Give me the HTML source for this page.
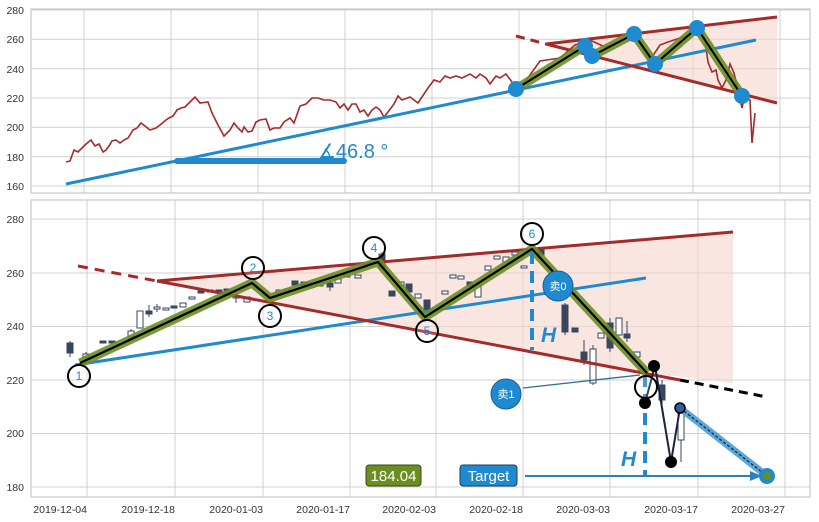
<!DOCTYPE html>
<html><head><meta charset="utf-8"><style>
html,body{margin:0;padding:0;background:#fff;}
svg{display:block;font-family:"Liberation Sans","Noto Sans CJK SC",sans-serif;}
.tk{font-size:10.5px;fill:#333;}
.g{stroke:#d0d0d0;stroke-width:1;}
</style></head><body>
<svg width="819" height="522" viewBox="0 0 819 522">
<rect width="819" height="522" fill="#fff"/>
<!-- TOP PANEL -->
<g class="g">
<line x1="31" x2="810" y1="10" y2="10"/><line x1="31" x2="810" y1="39.3" y2="39.3"/><line x1="31" x2="810" y1="68.7" y2="68.7"/><line x1="31" x2="810" y1="98" y2="98"/><line x1="31" x2="810" y1="127.3" y2="127.3"/><line x1="31" x2="810" y1="156.7" y2="156.7"/><line x1="31" x2="810" y1="186" y2="186"/>
<line x1="84" x2="84" y1="9" y2="193"/><line x1="171" x2="171" y1="9" y2="193"/><line x1="258" x2="258" y1="9" y2="193"/><line x1="345" x2="345" y1="9" y2="193"/><line x1="432" x2="432" y1="9" y2="193"/><line x1="519" x2="519" y1="9" y2="193"/><line x1="606" x2="606" y1="9" y2="193"/><line x1="693" x2="693" y1="9" y2="193"/><line x1="780" x2="780" y1="9" y2="193"/>
</g>
<rect x="31" y="9" width="779" height="184" fill="none" stroke="#c8c8c8" stroke-width="1.2"/>
<g class="tk" text-anchor="end">
<text x="24" y="14">280</text><text x="24" y="43">260</text><text x="24" y="73">240</text><text x="24" y="102">220</text><text x="24" y="131">200</text><text x="24" y="161">180</text><text x="24" y="190">160</text>
</g>
<polygon points="546,44 777,17 777,103" fill="#f5d5cc" opacity="0.6"/>
<polyline fill="none" stroke="#a52a2a" stroke-width="1.6" points="66,162 70,161 74,150 78,152 86,144 91,140 95,146 99,144 103,152 106,150 109,146 112,141 116,140 120,143 124,140 128,138 133,130 137,128 141,123 145,126 150,130 156,128 160,125 166,120 169,118 173,116 177,110 181,108 185,107 189,103 195,97 200,103 208,102 212,113 218,125 224,136 230,130 234,123 238,128 242,132 244,127 248,132 252,131 256,122 260,120 266,119 270,130 274,128 280,128 284,122 290,118 294,123 300,106 306,104 312,98 318,98 324,100 330,100 336,102 340,108 344,104 348,110 352,104 356,104 360,112 364,110 368,116 372,110 376,107 380,110 384,117 388,112 394,104 398,96 402,100 410,97 418,103 428,88 434,80 440,82 445,76 450,78 456,76 462,78 470,74 476,78 480,74 486,78 490,84 496,76 500,78 506,74 512,82 516,88 525,82 540,61 560,58 575,45 590,40 605,47 620,42 634,34 650,60 660,45 668,42 680,38 690,35 700,28 705,40 708,62 712,72 716,70 718,80 722,88 726,80 730,64 734,73 738,90 742,108 744,98 750,100 752,143 755,113"/>
<line x1="66" y1="184" x2="756" y2="40" stroke="#1f8ad0" stroke-width="3"/>
<line x1="177" y1="161" x2="344" y2="161" stroke="#1f8ad0" stroke-width="6" stroke-linecap="round"/>
<text x="318" y="158" font-size="20" fill="#1f8ad0">∡46.8 °</text>
<line x1="516" y1="36" x2="546" y2="44" stroke="#a52a2a" stroke-width="3" stroke-dasharray="9,6"/>
<line x1="546" y1="44" x2="777" y2="17" stroke="#a52a2a" stroke-width="3"/>
<line x1="546" y1="44" x2="777" y2="103" stroke="#a52a2a" stroke-width="3"/>
<polyline fill="none" stroke="#6b8e23" stroke-width="9" stroke-linejoin="round" opacity="0.9" points="516,89 585,46 592,56 634,34 655,64 697,28 742,96"/>
<polyline fill="none" stroke="#000" stroke-width="2" points="516,89 585,46 592,56 634,34 655,64 697,28 742,96"/>
<g fill="#1f8ad0"><circle cx="516" cy="89" r="8"/><circle cx="585" cy="46" r="8"/><circle cx="592" cy="56" r="8"/><circle cx="634" cy="34" r="8"/><circle cx="655" cy="64" r="8"/><circle cx="697" cy="28" r="8"/><circle cx="742" cy="96" r="8"/></g>

<!-- BOTTOM PANEL -->
<g class="g">
<line x1="31" x2="810" y1="219" y2="219"/><line x1="31" x2="810" y1="273" y2="273"/><line x1="31" x2="810" y1="326.5" y2="326.5"/><line x1="31" x2="810" y1="380" y2="380"/><line x1="31" x2="810" y1="433.5" y2="433.5"/><line x1="31" x2="810" y1="487" y2="487"/>
<line x1="87" x2="87" y1="200" y2="497"/><line x1="175" x2="175" y1="200" y2="497"/><line x1="263" x2="263" y1="200" y2="497"/><line x1="350" x2="350" y1="200" y2="497"/><line x1="436" x2="436" y1="200" y2="497"/><line x1="523" x2="523" y1="200" y2="497"/><line x1="610" x2="610" y1="200" y2="497"/><line x1="698" x2="698" y1="200" y2="497"/><line x1="785" x2="785" y1="200" y2="497"/>
</g>
<rect x="31" y="200" width="779" height="297" fill="none" stroke="#c8c8c8" stroke-width="1.2"/>
<g class="tk" text-anchor="end">
<text x="24" y="223">280</text><text x="24" y="277">260</text><text x="24" y="330">240</text><text x="24" y="384">220</text><text x="24" y="437">200</text><text x="24" y="491">180</text>
</g>
<g class="tk" text-anchor="end" font-size="10">
<text x="87" y="513">2019-12-04</text><text x="175" y="513">2019-12-18</text><text x="263" y="513">2020-01-03</text><text x="350" y="513">2020-01-17</text><text x="436" y="513">2020-02-03</text><text x="523" y="513">2020-02-18</text><text x="610" y="513">2020-03-03</text><text x="698" y="513">2020-03-17</text><text x="785" y="513">2020-03-27</text>
</g>
<polygon points="157,281 733,232 733,383 647,373" fill="#f5d5cc" opacity="0.6"/>
<!-- candles -->
<g stroke="#3a4560" stroke-width="1">
<line x1="70" y1="341" x2="70" y2="357"/><rect x="67" y="343" width="6" height="10" fill="#3a4560"/>
<line x1="86" y1="352" x2="86" y2="360"/><rect x="83" y="354" width="6" height="3" fill="#fff"/>
<rect x="100" y="341" width="6" height="2" fill="#3a4560"/><rect x="109" y="341" width="6" height="2" fill="#3a4560"/>
<line x1="131" y1="329" x2="131" y2="339"/><rect x="128" y="331" width="6" height="6" fill="#fff"/>
<rect x="137" y="311" width="6" height="17" fill="#fff"/>
<line x1="149" y1="305" x2="149" y2="317"/><rect x="146" y="311" width="6" height="3" fill="#3a4560"/>
<line x1="157" y1="304" x2="157" y2="312"/><rect x="154" y="307" width="6" height="2" fill="#fff"/>
<rect x="163" y="308" width="6" height="2" fill="#fff"/><rect x="171" y="306" width="6" height="2" fill="#3a4560"/>
<rect x="180" y="303" width="6" height="4" fill="#fff"/><rect x="189" y="297" width="6" height="2" fill="#fff"/>
<rect x="198" y="291" width="6" height="2" fill="#3a4560"/><rect x="207" y="290" width="6" height="2" fill="#fff"/>
<rect x="216" y="290" width="6" height="2" fill="#3a4560"/><rect x="224" y="289" width="6" height="2" fill="#3a4560"/>
<line x1="236" y1="291" x2="236" y2="303"/><rect x="233" y="296" width="6" height="2" fill="#fff"/>
<rect x="244" y="297" width="6" height="5" fill="#fff"/>
<rect x="276" y="290" width="6" height="3" fill="#fff"/><rect x="284" y="289" width="6" height="2" fill="#fff"/>
<rect x="292" y="281" width="6" height="4" fill="#3a4560"/><rect x="301" y="282" width="6" height="4" fill="#3a4560"/>
<rect x="309" y="283" width="6" height="4" fill="#fff"/><rect x="317" y="283" width="6" height="3" fill="#fff"/>
<line x1="330" y1="280" x2="330" y2="291"/><rect x="327" y="283" width="6" height="4" fill="#3a4560"/>
<rect x="335" y="279" width="6" height="4" fill="#fff"/><rect x="344" y="275" width="6" height="2" fill="#fff"/>
<rect x="355" y="275" width="6" height="3" fill="#fff"/>
<line x1="382" y1="252" x2="382" y2="270"/><rect x="379" y="254" width="6" height="14" fill="#3a4560"/>
<rect x="389" y="291" width="6" height="5" fill="#3a4560"/><rect x="398" y="282" width="6" height="4" fill="#fff"/>
<rect x="406" y="284" width="6" height="8" fill="#3a4560"/><rect x="415" y="294" width="6" height="4" fill="#fff"/>
<rect x="424" y="300" width="6" height="10" fill="#3a4560"/>
<rect x="442" y="291" width="6" height="3" fill="#fff"/><rect x="450" y="275" width="6" height="3" fill="#fff"/>
<rect x="458" y="276" width="6" height="3" fill="#fff"/><rect x="467" y="282" width="6" height="4" fill="#3a4560"/>
<rect x="475" y="285" width="6" height="12" fill="#fff"/><rect x="485" y="266" width="6" height="4" fill="#fff"/>
<rect x="494" y="256" width="6" height="3" fill="#fff"/><rect x="503" y="257" width="6" height="5" fill="#fff"/>
<rect x="512" y="252" width="6" height="3" fill="#fff"/><rect x="521" y="266" width="6" height="2" fill="#fff"/>
<rect x="538" y="249" width="6" height="6" fill="#3a4560"/>
<line x1="565" y1="303" x2="565" y2="335"/><rect x="562" y="305" width="6" height="27" fill="#3a4560"/>
<rect x="572" y="328" width="6" height="4" fill="#3a4560"/>
<line x1="584" y1="340" x2="584" y2="365"/><rect x="581" y="352" width="6" height="8" fill="#3a4560"/>
<line x1="593" y1="345" x2="593" y2="385"/><rect x="590" y="349" width="6" height="34" fill="#fff"/>
<rect x="598" y="333" width="6" height="5" fill="#fff"/>
<line x1="610" y1="318" x2="610" y2="352"/><rect x="607" y="323" width="6" height="25" fill="#3a4560"/>
<rect x="616" y="318" width="6" height="17" fill="#fff"/>
<line x1="627" y1="321" x2="627" y2="342"/><rect x="624" y="334" width="6" height="4" fill="#3a4560"/>
<rect x="634" y="352" width="6" height="5" fill="#fff"/>
<line x1="662" y1="380" x2="662" y2="407"/><rect x="659" y="385" width="6" height="15" fill="#3a4560"/>
<line x1="681" y1="405" x2="681" y2="462"/><rect x="678" y="408" width="6" height="32" fill="#fff"/>
</g>
<!-- lines -->
<line x1="75" y1="365" x2="646" y2="278" stroke="#1f8ad0" stroke-width="3"/>
<line x1="78" y1="266" x2="157" y2="281" stroke="#a52a2a" stroke-width="3" stroke-dasharray="10,7"/>
<line x1="157" y1="281" x2="733" y2="232" stroke="#a52a2a" stroke-width="3"/>
<line x1="157" y1="281" x2="680" y2="380" stroke="#a52a2a" stroke-width="3"/>
<line x1="680" y1="380" x2="767" y2="397" stroke="#000" stroke-width="3" stroke-dasharray="9,6"/>
<polyline fill="none" stroke="#6b8e23" stroke-width="9" stroke-linejoin="round" opacity="0.9" points="80,363 252,283 270,298 378,262 425,317 532,249 647,373"/>
<polyline fill="none" stroke="#000" stroke-width="2.2" points="80,363 252,283 270,298 378,262 425,317 532,249 647,373"/>
<line x1="532" y1="252" x2="532" y2="350" stroke="#1f8ad0" stroke-width="4" stroke-dasharray="12,7"/>
<text x="541" y="342" font-size="21" font-weight="bold" font-style="italic" fill="#1f8ad0">H</text>
<line x1="645" y1="375" x2="645" y2="476" stroke="#1f8ad0" stroke-width="4" stroke-dasharray="12,7"/>
<text x="621" y="466" font-size="21" font-weight="bold" font-style="italic" fill="#1f8ad0">H</text>
<!-- sell markers -->
<line x1="523" y1="388" x2="640" y2="375" stroke="#2f6f8f" stroke-width="1.3"/>
<circle cx="558" cy="286" r="15" fill="#1f8ad0" stroke="#1a5f9a"/>
<text x="558" y="290" font-size="11" fill="#fff" text-anchor="middle">卖0</text>
<circle cx="506" cy="394" r="15" fill="#1f8ad0" stroke="#1a5f9a"/>
<text x="506" y="398" font-size="11" fill="#fff" text-anchor="middle">卖1</text>
<!-- post-breakout path -->
<polyline fill="none" stroke="#1a2040" stroke-width="2" points="645,403 655,366 671,462 680,408"/>
<line x1="680" y1="408" x2="767" y2="476" stroke="#5aa7d8" stroke-width="7" stroke-linecap="round"/>
<line x1="680" y1="408" x2="767" y2="476" stroke="#1a2040" stroke-width="1.2" stroke-dasharray="3,2"/>
<circle cx="654" cy="366" r="6" fill="#000"/><circle cx="645" cy="403" r="6" fill="#000"/><circle cx="671" cy="462" r="6" fill="#000"/>
<circle cx="680" cy="408" r="5" fill="#2f5f9f" stroke="#000" stroke-width="1.5"/>
<circle cx="767" cy="476" r="8" fill="#1f8ad0"/><circle cx="767" cy="476" r="4" fill="#6b8e23"/>
<!-- target -->
<line x1="525" y1="476" x2="752" y2="476" stroke="#2f7fbf" stroke-width="2"/>
<polygon points="762,476 750,471 750,481" fill="#2f7fbf"/>
<rect x="460" y="465" width="57" height="21" rx="3" fill="#1f8ad0" stroke="#1a3f6a"/>
<text x="488.5" y="481" font-size="15" fill="#fff" text-anchor="middle">Target</text>
<rect x="366" y="465" width="55" height="21" rx="3" fill="#6b8e23" stroke="#3a4a1a"/>
<text x="393.5" y="481" font-size="15" fill="#fff" text-anchor="middle">184.04</text>
<!-- numbered circles -->
<g fill="#fff" fill-opacity="0.15" stroke="#000" stroke-width="2">
<circle cx="79" cy="376" r="11"/><circle cx="253" cy="268" r="11"/><circle cx="270" cy="316" r="11"/><circle cx="374" cy="248" r="11"/><circle cx="427" cy="331" r="11"/><circle cx="532" cy="234" r="11"/><circle cx="646" cy="387" r="11"/>
</g>
<g font-size="12" fill="#1f8ad0" text-anchor="middle">
<text x="79" y="380">1</text><text x="253" y="272">2</text><text x="270" y="320">3</text><text x="374" y="252">4</text><text x="427" y="335">5</text><text x="532" y="238">6</text>
</g>
</svg>
</body></html>
